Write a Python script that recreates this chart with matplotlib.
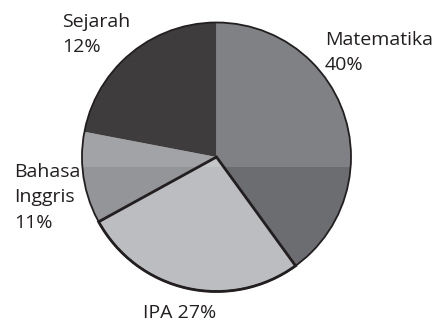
import matplotlib
matplotlib.use('agg')
import matplotlib.pyplot as plt
from matplotlib.patches import Circle, Rectangle, Wedge

# subject shares (wedge sizes) and the printed labels
subjects = ["Matematika", "IPA", "Bahasa Inggris", "Sejarah"]
shares = [40, 27, 11, 22]
labels = ["Matematika\n40%", "IPA 27%", "Bahasa\nInggris\n11%", "Sejarah\n12%"]
colors = ["#6c6d70", "#bcbdc0", "#939598", "#1f1d1e"]

# top-left baseline of each label, in pixels from the top-left corner
label_pos = [(325, 45), (143, 318), (14, 177), (62, 27)]
line_step = 25.5

W, H = 436, 321
cx, cy, r = 216.5, H - 157, 134.5
edge = "#231f20"

plt.rcParams['font.family'] = ['Open Sans', 'DejaVu Sans']

fig = plt.figure(figsize=(W / 100, H / 100), dpi=100)
ax = fig.add_axes([0, 0, 1, 1])

wedges, _ = ax.pie(shares, colors=colors, startangle=90, counterclock=False,
                   center=(cx, cy), radius=r, frame=True,
                   wedgeprops=dict(linewidth=0))
ax.set_xlim(0, W)
ax.set_ylim(0, H)
ax.set_aspect('equal')
ax.axis('off')

# lighter upper part of the disc
clip = Circle((cx, cy), r, transform=ax.transData)
band = Rectangle((cx - r - 2, H - 167), 2 * r + 4, r + 20, facecolor='white',
                 alpha=0.14, linewidth=0, zorder=3)
band.set_clip_path(clip)
ax.add_patch(band)

# outline of the disc
ax.add_patch(Circle((cx, cy), r, fill=False, edgecolor=edge, linewidth=1.3, zorder=4))

# IPA wedge gets a heavy border
w = wedges[1]
ax.add_patch(Wedge(w.center, w.r, w.theta1, w.theta2, fill=False,
                   edgecolor=edge, linewidth=2.0, zorder=5))

for text, (x, y) in zip(labels, label_pos):
    for i, line in enumerate(text.split("\n")):
        ax.text(x, H - (y + i * line_step), line, fontsize=14, color='#231f20',
                ha='left', va='baseline')

plt.savefig('out.png', dpi=100)
